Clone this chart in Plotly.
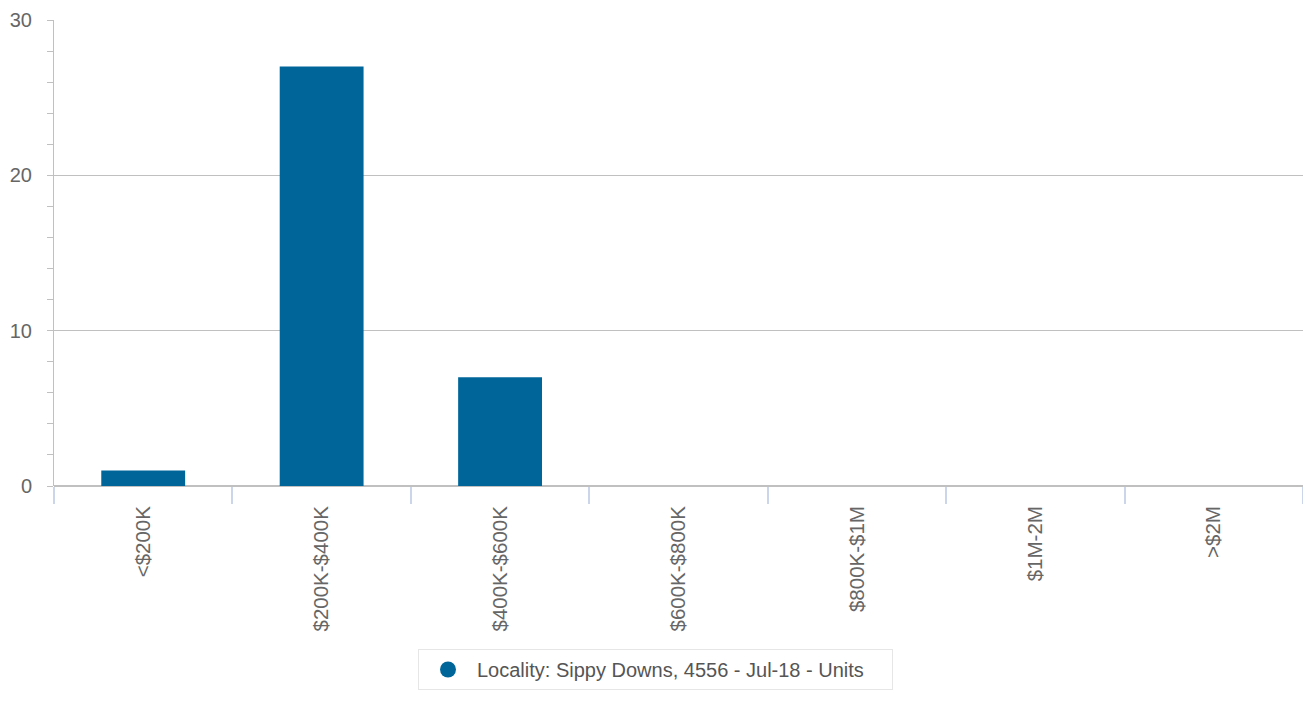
from plotly import graph_objs as go

price_bands = ["<$200K", "$200K-$400K", "$400K-$600K", "$600K-$800K", "$800K-$1M", "$1M-2M", ">$2M"]
units_sold = [1, 27, 7, 0, 0, 0, 0]
series_name = "Locality: Sippy Downs, 4556 - Jul-18 - Units"

BLUE = "#006699"
FONT = "Liberation Sans, Arial, Helvetica, sans-serif"
W, H = 1303, 702

fig = go.Figure()

fig.add_trace(
    go.Bar(
        x=price_bands,
        y=units_sold,
        marker=dict(color=BLUE, line=dict(width=0)),
        showlegend=False,
        name=series_name,
    )
)

# legend entry drawn with a round marker, like the original
fig.add_trace(
    go.Scatter(
        x=[None], y=[None],
        mode="markers",
        marker=dict(color=BLUE, size=18, symbol="circle"),
        name=series_name,
    )
)

fig.update_layout(
    width=W,
    height=H,
    margin=dict(l=54, r=0, t=20, b=H - 486),
    paper_bgcolor="white",
    plot_bgcolor="white",
    font=dict(family=FONT, size=20, color="#666666"),
    bargap=0.53,
    showlegend=True,
    legend=dict(
        orientation="h",
        xref="container", yref="container",
        x=418 / W, xanchor="left",
        y=1 - 649 / H, yanchor="top",
        bordercolor="#e6e6e6", borderwidth=1,
        bgcolor="white",
        font=dict(size=20, color="#555555"),
        itemwidth=48,
        entrywidth=410,
    ),
)

fig.update_xaxes(
    type="category",
    automargin=False,
    tickson="boundaries",
    ticks="outside",
    ticklen=17,
    tickcolor="#ccd6eb",
    tickwidth=2,
    tickangle=-90,
    ticklabelstandoff=15,
    showgrid=False,
    showline=False,
    tickfont=dict(size=20.5, color="#666666"),
)

fig.update_yaxes(
    automargin=False,
    range=[0, 30],
    dtick=10,
    showline=True,
    linecolor="#c0c0c0",
    linewidth=1,
    ticks="outside",
    ticklen=6,
    tickcolor="#c0c0c0",
    gridcolor="#c0c0c0",
    zeroline=True,
    zerolinecolor="#c0c0c0",
    ticklabelstandoff=11,
    minor=dict(ticks="outside", dtick=2, ticklen=6, tickcolor="#c0c0c0", showgrid=False),
    tickfont=dict(size=20, color="#666666"),
)

# drop the browser's default body margin so the figure fills the window exactly
fig.write_html(
    "out.html",
    config={"displayModeBar": False},
    post_script="document.body.style.margin='0';document.body.style.overflow='hidden';",
)
